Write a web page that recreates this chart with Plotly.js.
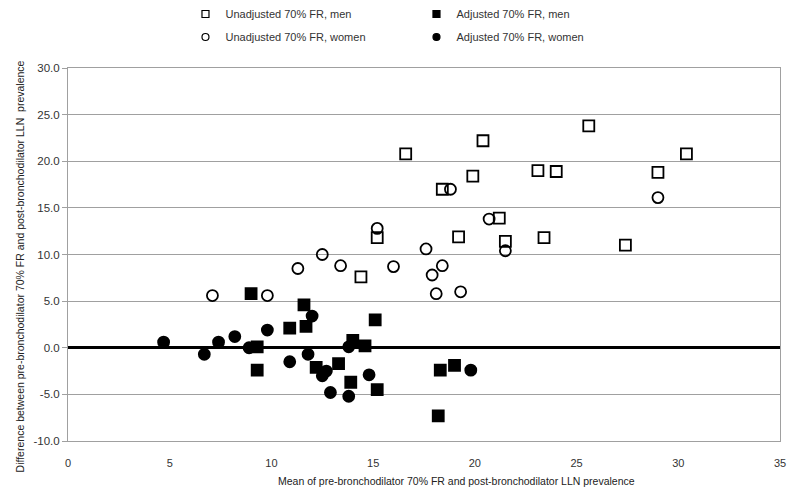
<!DOCTYPE html>
<html>
<head>
<meta charset="utf-8">
<script src="https://cdn.plot.ly/plotly-3.0.1.min.js"></script>
<style>html,body{margin:0;padding:0;background:#fff;}#chart{width:800px;height:497px;}</style>
</head>
<body>
<div id="chart"></div>
<script>
// Unadjusted 70% FR, men
const unadjMenX = [14.4, 15.2, 16.6, 18.4, 19.2, 19.9, 20.4, 21.2, 21.5, 23.1, 23.4, 24.0, 25.6, 27.4, 29.0, 30.4];
const unadjMenY = [7.6, 11.8, 20.8, 17.0, 11.9, 18.4, 22.2, 13.9, 11.4, 19.0, 11.8, 18.9, 23.8, 11.0, 18.8, 20.8];
// Adjusted 70% FR, men
const adjMenX = [9.0, 9.3, 9.3, 10.9, 11.6, 11.7, 12.2, 13.3, 13.9, 14.0, 14.6, 15.1, 15.2, 18.2, 18.3, 19.0];
const adjMenY = [5.8, 0.1, -2.4, 2.1, 4.6, 2.3, -2.1, -1.7, -3.7, 0.8, 0.2, 3.0, -4.5, -7.3, -2.4, -1.9];
// Unadjusted 70% FR, women
const unadjWomenX = [7.1, 9.8, 11.3, 12.5, 13.4, 15.2, 16.0, 17.6, 17.9, 18.1, 18.4, 18.8, 19.3, 20.7, 21.5, 29.0];
const unadjWomenY = [5.6, 5.6, 8.5, 10.0, 8.8, 12.8, 8.7, 10.6, 7.8, 5.8, 8.8, 17.0, 6.0, 13.8, 10.4, 16.1];
// Adjusted 70% FR, women
const adjWomenX = [4.7, 6.7, 7.4, 8.2, 8.9, 9.8, 10.9, 11.8, 12.0, 12.5, 12.7, 12.9, 13.8, 13.8, 14.8, 19.8];
const adjWomenY = [0.6, -0.7, 0.6, 1.2, 0.0, 1.9, -1.5, -0.7, 3.4, -3.0, -2.5, -4.8, -5.2, 0.1, -2.9, -2.4];

const seriesNames = ["Unadjusted 70% FR, men", "Adjusted 70% FR, men", "Unadjusted 70% FR, women", "Adjusted 70% FR, women"];
const seriesSymbols = ['square-open', 'square', 'circle-open', 'circle'];
const xTickVals = [0, 5, 10, 15, 20, 25, 30, 35];
const yTickVals = [-10, -5, 0, 5, 10, 15, 20, 25, 30];
const xTitle = 'Mean of pre-bronchodilator 70% FR and post-bronchodilator LLN prevalence';
const yTitle = 'Difference between pre-bronchodilator 70% FR and post-bronchodilator LLN  prevalence';

const FONT = "Liberation Sans, Arial, sans-serif";
const mk = (sym, size, lw) => ({symbol: sym, size: size, color: '#000', line: {color: '#000', width: lw}});

const dataX = [unadjMenX, adjMenX, unadjWomenX, adjWomenX];
const dataY = [unadjMenY, adjMenY, unadjWomenY, adjWomenY];
const legendOf = ['legend', 'legend', 'legend2', 'legend2'];

const traces = [];
for (let i = 0; i < 4; i++) {
  traces.push({x: dataX[i], y: dataY[i], name: seriesNames[i], mode: 'markers', type: 'scatter',
    marker: mk(seriesSymbols[i], 11, 1.8), showlegend: false, cliponaxis: false});
}
// legend entries (small symbols, like the reference legend)
for (let i = 0; i < 4; i++) {
  traces.push({x: [null], y: [null], name: seriesNames[i], mode: 'markers', type: 'scatter',
    marker: mk(seriesSymbols[i], 7, 1.2), showlegend: true, legend: legendOf[i]});
}

const legendCommon = {
  orientation: 'h', xanchor: 'left', yanchor: 'middle',
  xref: 'paper', yref: 'container',
  font: {family: FONT, size: 11, color: '#333'},
  entrywidth: 186, entrywidthmode: 'pixels', itemwidth: 30,
  bgcolor: 'rgba(0,0,0,0)', tracegroupgap: 0, traceorder: 'normal'
};

const layout = {
  width: 800, height: 497,
  margin: {l: 68, r: 20, t: 68, b: 56},
  paper_bgcolor: '#fff', plot_bgcolor: '#fff',
  font: {family: FONT, size: 11, color: '#333'},
  showlegend: true,
  legend: Object.assign({}, legendCommon, {x: 0.165, y: 1 - 14/497}),
  legend2: Object.assign({}, legendCommon, {x: 0.165, y: 1 - 37/497}),
  xaxis: {
    range: [0, 35], tickvals: xTickVals, ticktext: xTickVals.map(String),
    showgrid: false, zeroline: false,
    showline: true, linecolor: '#a0a0a0', linewidth: 1, mirror: true,
    ticks: '', ticklabelstandoff: 12,
    tickfont: {family: FONT, size: 11, color: '#333'}
  },
  yaxis: {
    range: [-10, 30], tickvals: yTickVals, ticktext: yTickVals.map(v => v.toFixed(1)),
    showgrid: true, gridcolor: '#a0a0a0', gridwidth: 1,
    zeroline: true, zerolinecolor: '#000', zerolinewidth: 3,
    showline: true, linecolor: '#a0a0a0', linewidth: 1, mirror: true,
    ticks: 'outside', ticklen: 5, tickcolor: '#a0a0a0',
    tickfont: {family: FONT, size: 11.5, color: '#333'}
  },
  annotations: [
    {text: xTitle, xref: 'paper', yref: 'paper', x: 0.546, y: -0.107, xanchor: 'center', yanchor: 'middle',
     showarrow: false, font: {family: FONT, size: 10.5, color: '#222'}},
    {text: yTitle, xref: 'paper', yref: 'paper', x: -0.0674, y: 0.468, xanchor: 'center', yanchor: 'middle',
     textangle: -90, showarrow: false, font: {family: FONT, size: 10.5, color: '#222'}}
  ]
};

Plotly.newPlot('chart', traces, layout, {staticPlot: true, displayModeBar: false});
</script>
</body>
</html>
